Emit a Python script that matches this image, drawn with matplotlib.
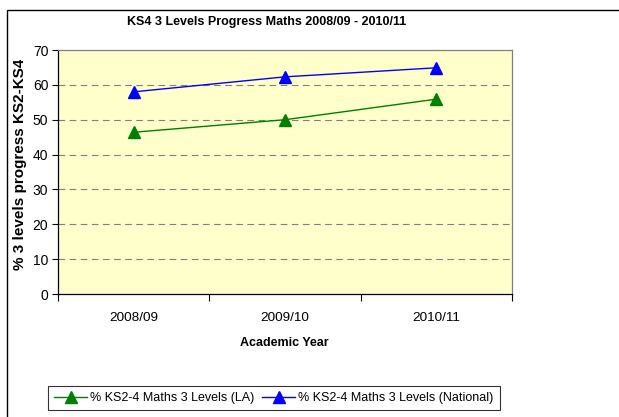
import matplotlib
matplotlib.use("Agg")
import matplotlib.pyplot as plt
from matplotlib.patches import Rectangle
from matplotlib.transforms import Bbox, TransformedBbox
import numpy as np

plt.rcParams['font.family'] = ['Liberation Sans', 'DejaVu Sans']

years = ["2008/09", "2009/10", "2010/11"]
la_values = [46.4, 50.0, 55.9]
national_values = [58.0, 62.3, 64.9]
yticks = [0, 10, 20, 30, 40, 50, 60, 70]

W, H = 619, 417
fig = plt.figure(figsize=(W / 100, H / 100), dpi=100)
fig.patch.set_facecolor('white')

# outer chart border (cut at right/bottom)
fig.add_artist(Rectangle((7 / W, -0.05), 1.2, (H - 10) / H + 0.05,
                         transform=fig.transFigure, fill=False,
                         edgecolor='black', linewidth=1.0))

ax = fig.add_axes([58 / W, (H - 294) / H, (512 - 58) / W, (294 - 50) / H])
ax.set_facecolor('#FFFFCC')

x = np.arange(len(years))
ax.plot(x, la_values, color='green', linewidth=1.0, marker='^',
        markersize=9, markerfacecolor='green', markeredgecolor='green',
        label='% KS2-4 Maths 3 Levels (LA)')
ax.plot(x, national_values, color='blue', linewidth=1.0, marker='^',
        markersize=9, markerfacecolor='blue', markeredgecolor='blue',
        label='% KS2-4 Maths 3 Levels (National)')

ax.set_xlim(-0.5, len(years) - 0.5)
ax.set_ylim(0, 70)
ax.set_yticks(yticks)
ax.set_yticklabels([str(v) for v in yticks], fontsize=10)
ax.set_xticks(x)
ax.set_xticklabels(years, fontsize=9.7)
ax.set_xticks(np.arange(-0.5, len(years), 1.0), minor=True)
ax.tick_params(axis='x', which='major', length=0, pad=13)
ax.tick_params(axis='x', which='minor', length=5, width=0.8, direction='out')
ax.tick_params(axis='y', length=4, width=0.8, direction='out', pad=3)

for v in yticks[1:-1]:
    ax.axhline(v, color='#808080', linestyle=(0, (6, 4)), linewidth=0.8, zorder=0)

ax.spines['top'].set_color('#808080')
ax.spines['right'].set_color('#808080')
ax.spines['left'].set_color('black')
ax.spines['bottom'].set_color('black')
for s in ax.spines.values():
    s.set_linewidth(0.9)

fig.text(267 / W, 1 - 22 / H, 'KS4 3 Levels Progress Maths 2008/09 - 2010/11',
         fontsize=9, fontweight='bold', ha='center', va='center')
fig.text(284.5 / W, 1 - 343 / H, 'Academic Year', fontsize=9,
         fontweight='bold', ha='center', va='center')

ylab = fig.text(20 / W, 1 - 270 / H, '% 3 levels progress KS2-KS4',
                fontsize=11, fontweight='bold', rotation=90,
                ha='center', va='bottom')
ylab.set_clip_box(TransformedBbox(Bbox([[0, 0], [1, 1 - 60 / H]]),
                                  fig.transFigure))
ylab.set_clip_on(True)

leg = fig.legend(loc='center', bbox_to_anchor=((52 + 496) / 2 / W, 1 - 398 / H),
                 ncol=2, fontsize=9, frameon=True, fancybox=False,
                 edgecolor='black', handlelength=2.6, columnspacing=0.6,
                 handletextpad=0.3, borderpad=0.5)
leg.get_frame().set_linewidth(0.8)

fig.savefig('out.png', dpi=100)
